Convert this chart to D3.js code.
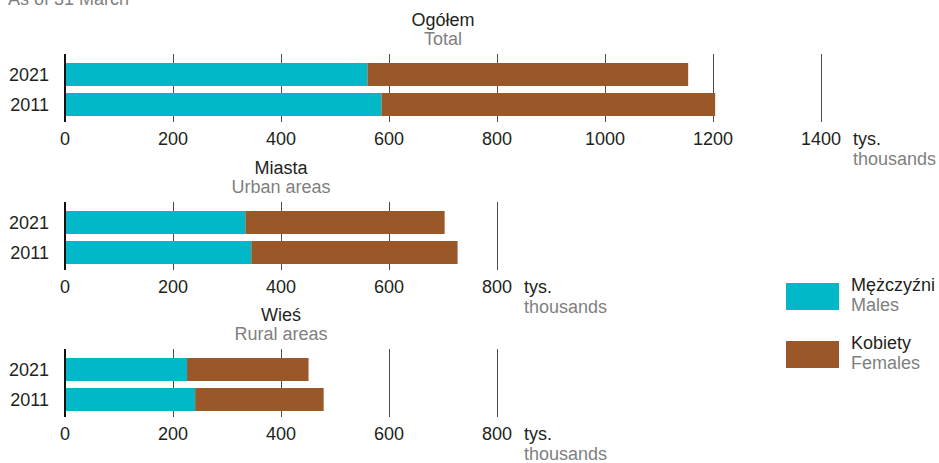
<!DOCTYPE html>
<meta charset="utf-8">
<head>
	<style>
		html, body { margin: 0; padding: 0; background: white; }
		svg { display: block; font-family: "Liberation Sans", Arial, sans-serif; }
		.pl { fill: #231f20; font-size: 18px; }
		.en { fill: #7f7f7f; font-size: 18px; }
		.grid { stroke: #4d4d4d; stroke-width: 1; shape-rendering: crispEdges; }
		.zero { stroke: #111; stroke-width: 2; shape-rendering: crispEdges; }
	</style>
	<script src="https://d3js.org/d3.v7.min.js"></script>
</head>
<body>
	<script>

	// DATA (thousands, order: 2021, 2011)
	var years = ["2021", "2011"];

	var totalMales = [560, 586],
		totalFemales = [594, 618];
	var urbanMales = [334, 345],
		urbanFemales = [369, 382];
	var ruralMales = [226, 241],
		ruralFemales = [225, 238];

	var totalTicks = [0, 200, 400, 600, 800, 1000, 1200, 1400];
	var areaTicks = [0, 200, 400, 600, 800];

	var colors = { males: "#00b8c7", females: "#9a5829" };

	var panels = [
		{ pl: "Ogółem", en: "Total", males: totalMales, females: totalFemales, ticks: totalTicks, top: 54 },
		{ pl: "Miasta", en: "Urban areas", males: urbanMales, females: urbanFemales, ticks: areaTicks, top: 202 },
		{ pl: "Wieś", en: "Rural areas", males: ruralMales, females: ruralFemales, ticks: areaTicks, top: 349 }
	];

	// SETUP
	var W = 939, H = 463,
		x0 = 65,
		pxPerUnit = 0.54;

	var svg = d3.select("body").append("svg")
		.attr("width", W)
		.attr("height", H);

	// cut-off subtitle at the very top
	svg.append("text")
		.attr("class", "en")
		.attr("x", 8)
		.attr("y", 5)
		.text("As of 31 March");

	panels.forEach(function(p) {
		var maxT = d3.max(p.ticks);
		var x = d3.scaleLinear()
			.domain([0, maxT])
			.range([x0, x0 + maxT * pxPerUnit]);
		var y = d3.scaleBand()
			.domain(years)
			.range([p.top + 9, p.top + 62])
			.paddingInner(7 / 30)
			.paddingOuter(0);

		var g = svg.append("g");
		var mid = (x.range()[0] + x.range()[1]) / 2;

		g.append("text").attr("class", "pl")
			.attr("x", mid).attr("y", p.top - 28)
			.attr("text-anchor", "middle").text(p.pl);
		g.append("text").attr("class", "en")
			.attr("x", mid).attr("y", p.top - 9)
			.attr("text-anchor", "middle").text(p.en);

		// gridlines
		g.selectAll(".grid")
			.data(p.ticks.filter(function(t) { return t > 0; }))
			.enter().append("line")
			.attr("class", "grid")
			.attr("x1", function(d) { return x(d); })
			.attr("x2", function(d) { return x(d); })
			.attr("y1", p.top)
			.attr("y2", p.top + 68);

		// bars
		var rows = years.map(function(yr, i) {
			return { year: yr, m: p.males[i], f: p.females[i] };
		});

		g.selectAll(".bm").data(rows).enter().append("rect")
			.attr("x", x(0))
			.attr("y", function(d) { return y(d.year); })
			.attr("width", function(d) { return x(d.m) - x(0); })
			.attr("height", y.bandwidth())
			.attr("fill", colors.males);

		g.selectAll(".bf").data(rows).enter().append("rect")
			.attr("x", function(d) { return x(d.m); })
			.attr("y", function(d) { return y(d.year); })
			.attr("width", function(d) { return x(d.m + d.f) - x(d.m); })
			.attr("height", y.bandwidth())
			.attr("fill", colors.females);

		// zero axis
		g.append("line").attr("class", "zero")
			.attr("x1", x(0)).attr("x2", x(0))
			.attr("y1", p.top).attr("y2", p.top + 68);

		// year labels
		g.selectAll(".yl").data(years).enter().append("text")
			.attr("class", "pl")
			.attr("x", 49)
			.attr("y", function(d) { return y(d) + y.bandwidth() / 2 + 6.5; })
			.attr("text-anchor", "end")
			.text(function(d) { return d; });

		// tick labels
		var tl = g.selectAll(".tl").data(p.ticks).enter().append("text")
			.attr("class", "pl")
			.attr("x", function(d) { return x(d); })
			.attr("y", p.top + 91)
			.attr("text-anchor", "middle")
			.text(function(d) { return d; });

		var lastW = tl.nodes()[tl.size() - 1].getComputedTextLength();
		var ux = x(maxT) + lastW / 2 + 12;
		g.append("text").attr("class", "pl")
			.attr("x", ux).attr("y", p.top + 91).text("tys.");
		g.append("text").attr("class", "en")
			.attr("x", ux).attr("y", p.top + 111).text("thousands");
	});

	// LEGEND
	var legend = [
		{ pl: "Mężczyźni", en: "Males", color: colors.males, y: 283 },
		{ pl: "Kobiety", en: "Females", color: colors.females, y: 341 }
	];
	var lg = svg.append("g").selectAll("g").data(legend).enter().append("g");
	lg.append("rect")
		.attr("x", 786).attr("y", function(d) { return d.y; })
		.attr("width", 53).attr("height", 27)
		.attr("fill", function(d) { return d.color; });
	lg.append("text").attr("class", "pl")
		.attr("x", 851).attr("y", function(d) { return d.y + 8; })
		.text(function(d) { return d.pl; });
	lg.append("text").attr("class", "en")
		.attr("x", 851).attr("y", function(d) { return d.y + 28; })
		.text(function(d) { return d.en; });

	</script>
</body>
